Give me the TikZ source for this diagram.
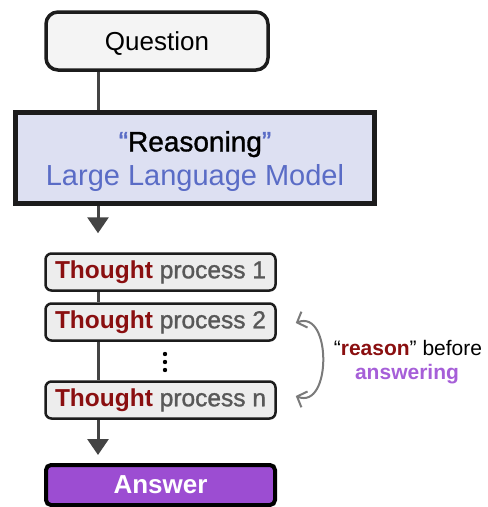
\documentclass[tikz,border=0pt]{standalone}
\usepackage{fontspec}
\setmainfont{Liberation Sans}
\newfontfamily\semib{Liberation Sans}[FakeBold=1.2]
\usetikzlibrary{arrows.meta}
\definecolor{edgegray}{HTML}{444444}
\definecolor{boxline}{HTML}{1C1C1C}
\definecolor{qfill}{HTML}{F4F4F4}
\definecolor{llmfill}{HTML}{DDE0F2}
\definecolor{llmblue}{HTML}{5A6CC6}
\definecolor{tfill}{HTML}{EDEDED}
\definecolor{thoughtred}{HTML}{8A0F10}
\definecolor{procgray}{HTML}{585858}
\definecolor{ansfill}{HTML}{9C4DD2}
\definecolor{anspurple}{HTML}{A65FD8}
\definecolor{loopgray}{HTML}{7A7A7A}
\tikzset{
  qbox/.style={draw=boxline, line width=3.5pt, fill=qfill, rounded corners=12pt,
    minimum width=222pt, minimum height=58pt, inner sep=0pt},
  llmbox/.style={draw=boxline, line width=5pt, fill=llmfill,
    minimum width=359pt, minimum height=91pt, inner sep=0pt},
  tbox/.style={draw=boxline, line width=2.5pt, fill=tfill, rounded corners=6pt,
    minimum width=230pt, minimum height=37pt, inner sep=0pt},
  abox/.style={draw=black, line width=4pt, fill=ansfill, rounded corners=5pt,
    minimum width=229pt, minimum height=40pt, inner sep=0pt},
  spine/.style={draw=edgegray, line width=3pt},
  spinearrow/.style={spine, -{Triangle[length=16pt,width=21pt]}},
  loop/.style={draw=loopgray, line width=2pt,
    {Straight Barb[length=8pt,width=17pt]}-{Straight Barb[length=8pt,width=17pt]}},
}
% lower a text inside its box without changing the box's reported size
\newcommand{\lowered}[2]{\raisebox{-#1}[\height][\depth]{#2}}
\newcommand{\thought}[1]{\fontsize{24.5}{27}\selectfont\textcolor{thoughtred}{\textbf{Thought}} \textcolor{procgray}{\semib process #1}}
\begin{document}
\begin{tikzpicture}[x=1pt, y=-1pt]
  \useasboundingbox (0,0) rectangle (488,507);

  % x position of the vertical flow line
  \coordinate (spinex) at (98,0);

  \node[qbox] (q) at (157,41) {\fontsize{26}{30}\selectfont\lowered{3pt}{Question}};
  \node[llmbox] (llm) at (195,158) {\lowered{3.5pt}{%
    \begin{tabular}{@{}c@{}}
    \fontsize{28}{34}\selectfont{\semib\textcolor{llmblue}{“}Reasoning\textcolor{llmblue}{”}}\\[10pt]
    \fontsize{29}{34}\selectfont\textcolor{llmblue}{Large Language Model}
    \end{tabular}}};

  \node[tbox] (t1) at (160.5,272) {\thought{1}};
  \node[tbox] (t2) at (160.5,322) {\thought{2}};
  \node[tbox] (tn) at (160.5,400) {\thought{n}};
  \node[abox] (ans) at (160.5,485) {\fontsize{26}{30}\selectfont\bfseries\color{white}Answer};

  % flow connectors
  \draw[spine] (q.south -| spinex) -- (llm.north -| spinex);
  \draw[spinearrow, shorten >=19pt] (llm.south -| spinex) -- (t1.north -| spinex);
  \draw[spine] (t1.south -| spinex) -- (t2.north -| spinex);
  \draw[spine] (t2.south -| spinex) -- (tn.north -| spinex);
  \draw[spinearrow, shorten >=8pt] (tn.south -| spinex) -- (ans.north -| spinex);

  % vertical ellipsis between the steps
  \foreach \yy/\nm in {354/d1,362/d2,370/d3}
    \fill (165,\yy) circle (2.2pt) coordinate (\nm);

  % loop between the reasoning steps
  \coordinate (ls) at ([xshift=19pt,yshift=-1pt]t2.east);
  \coordinate (le) at ([xshift=19pt,yshift=4pt]tn.east);
  \draw[loop] (ls) .. controls ([xshift=36pt,yshift=14pt]ls) and ([xshift=36pt,yshift=-14pt]le) .. (le);

  \node[inner sep=0pt] (lab1) at (408,348)
    {\fontsize{21}{24}\selectfont “\textcolor{thoughtred}{\textbf{reason}}” before};
  \node[inner sep=0pt] (lab2) at (407,374)
    {\fontsize{21}{24}\selectfont\textcolor{anspurple}{\textbf{answering}}};
\end{tikzpicture}
\end{document}
